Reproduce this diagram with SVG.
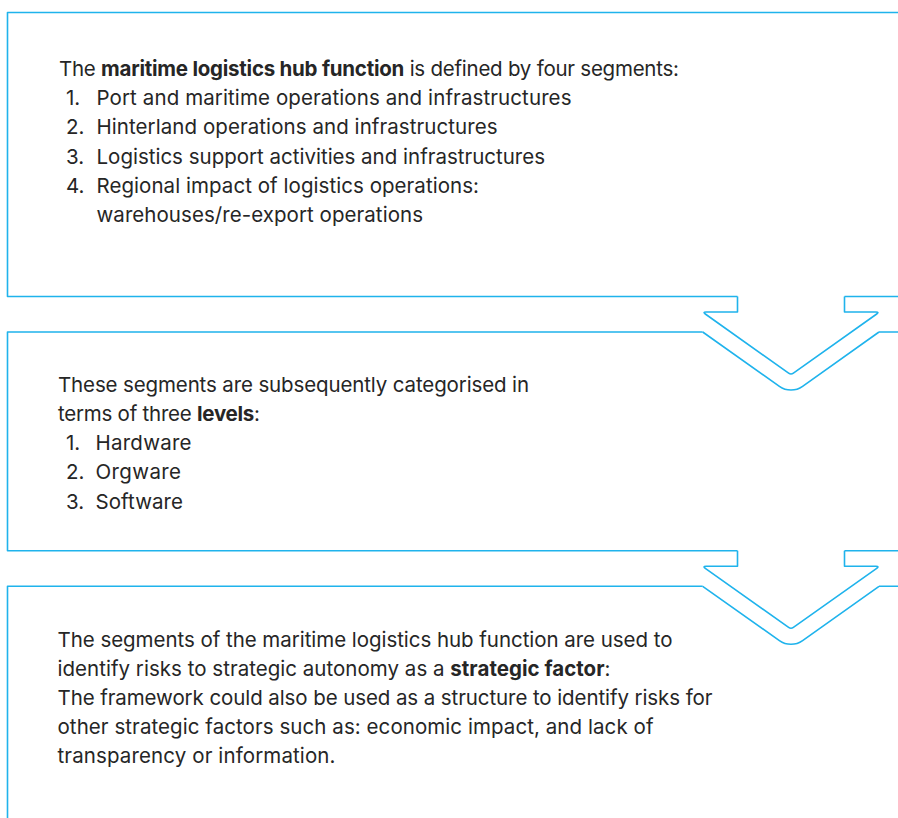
<svg xmlns="http://www.w3.org/2000/svg" width="898" height="818" viewBox="0 0 898 818">
<style>
.ln{fill:none;stroke:#1fb3ec;stroke-width:1.6;stroke-linejoin:round}
text{font-family:Inter,"Noto Sans","Liberation Sans",sans-serif;font-size:20.5px;fill:#262626}
.b{font-weight:700}
</style>
<rect width="898" height="818" fill="#ffffff"/>
<g id="box1">
<path class="ln" d="M898 12.5H7.5V296.5H737.5M844.5 296.5H898"/>
<text x="59" y="76" textLength="620">The <tspan class="b">maritime logistics hub function</tspan> is defined by four segments:</text>
<text x="66" y="105">1.</text><text x="96.5" y="105" textLength="475">Port and maritime operations and infrastructures</text>
<text x="66" y="134.3">2.</text><text x="96.5" y="134.3" textLength="401">Hinterland operations and infrastructures</text>
<text x="66" y="163.5">3.</text><text x="96.5" y="163.5" textLength="448.5">Logistics support activities and infrastructures</text>
<text x="66" y="192.7">4.</text><text x="96.5" y="192.7" textLength="382.5">Regional impact of logistics operations:</text>
<text x="96.5" y="222" textLength="326.5">warehouses/re-export operations</text>
</g>
<g id="box2">
<path class="ln" d="M702.7 332H7.5V550.8H737.5M844.5 550.8H898M879 332H898"/>
<text x="58" y="391.7" textLength="471">These segments are subsequently categorised in</text>
<text x="58" y="421" textLength="202">terms of three <tspan class="b">levels</tspan>:</text>
<text x="66" y="450.2">1.</text><text x="95.5" y="450.2" textLength="96">Hardware</text>
<text x="66" y="479.4">2.</text><text x="95.5" y="479.4" textLength="85.5">Orgware</text>
<text x="66" y="508.6">3.</text><text x="95.5" y="508.6" textLength="87.5">Software</text>
</g>
<g id="box3">
<path class="ln" d="M702.7 586.3H7.5V818M879 586.3H898"/>
<text x="57.5" y="646.7" textLength="615">The segments of the maritime logistics hub function are used to</text>
<text x="57.5" y="675.9" textLength="553">identify risks to strategic autonomy as a <tspan class="b">strategic factor</tspan>:</text>
<text x="57.5" y="705.1" textLength="655">The framework could also be used as a structure to identify risks for</text>
<text x="57.5" y="734.3" textLength="596">other strategic factors such as: economic impact, and lack of</text>
<text x="57.5" y="763.3" textLength="278">transparency or information.</text>
</g>
<g id="connectors">
<path class="ln" d="M737.5 296.5V312H706Q702.5 312 705.3 314L788.6 373.1Q791 374.8 793.4 373.1L876.7 314Q879.5 312 876 312H844.5V296.5"/>
<path class="ln" d="M702.7 332L779.4 386.3A20 20 0 0 0 802.6 386.3L879 332"/>
<path class="ln" d="M737.5 550.8V566.3H706Q702.5 566.3 705.3 568.3L788.6 627.4Q791 629.1 793.4 627.4L876.7 568.3Q879.5 566.3 876 566.3H844.5V550.8"/>
<path class="ln" d="M702.7 586.3L779.4 640.6A20 20 0 0 0 802.6 640.6L879 586.3"/>
</g>
</svg>
